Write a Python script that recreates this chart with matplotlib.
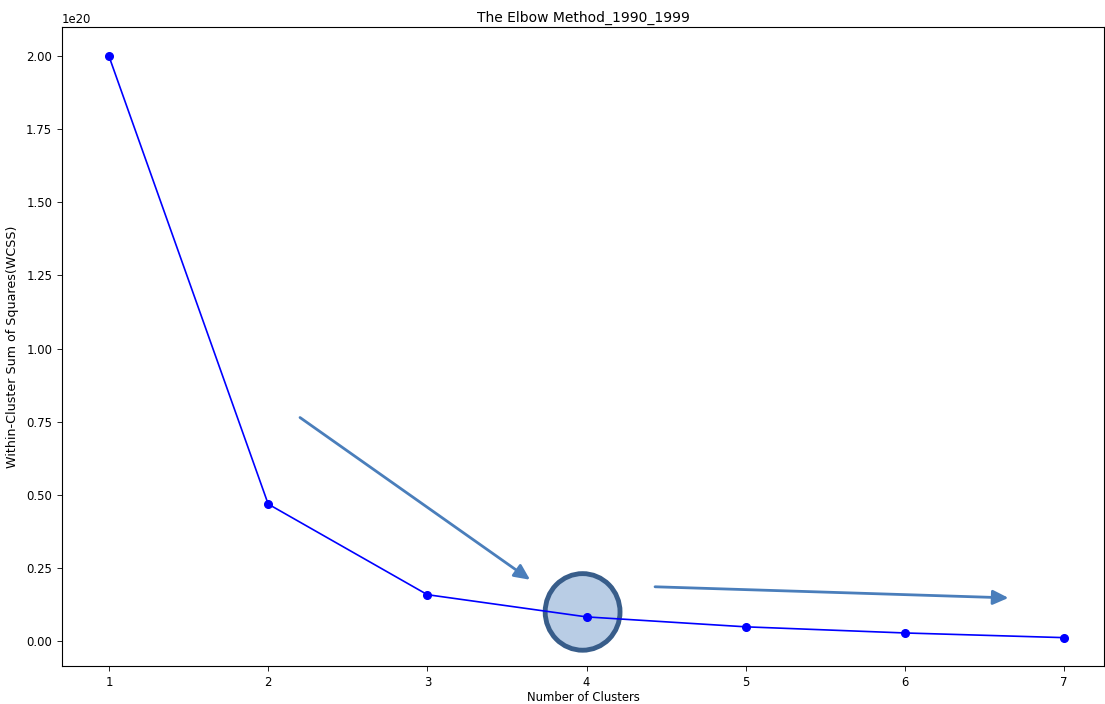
import matplotlib
matplotlib.use("Agg")
import matplotlib.pyplot as plt
from matplotlib.patches import Ellipse

# elbow curve values
clusters = [1, 2, 3, 4, 5, 6, 7]
wcss = [2.00e20, 0.468e20, 0.158e20, 0.082e20, 0.048e20, 0.027e20, 0.011e20]

xticks = [1, 2, 3, 4, 5, 6, 7]
yticks = [0.0, 0.25e20, 0.50e20, 0.75e20, 1.00e20, 1.25e20, 1.50e20, 1.75e20, 2.00e20]

W, H = 1105, 704
fig = plt.figure(figsize=(W / 100, H / 100), dpi=100)
ax = fig.add_axes([62 / W, (H - 666) / H, (1104 - 62) / W, (666 - 27) / H])

# highlight of the elbow point, under the curve
ax.add_patch(Ellipse((3.975, 0.099e20), 0.47, 0.262e20, facecolor="#b9cde5",
                     edgecolor="#385d8a", linewidth=3.5, zorder=1.5))

ax.plot(clusters, wcss, color="blue", marker="o", markersize=5.5,
        linewidth=1.2, zorder=2)

ax.set_xticks(xticks)
ax.set_yticks(yticks)
ax.set_xlim(0.705, 7.25)
ax.set_ylim(-0.086e20, 2.10e20)
ax.tick_params(labelsize=8.4, length=3.5, width=0.6)
ax.yaxis.get_offset_text().set_fontsize(8.4)
for s in ax.spines.values():
    s.set_linewidth(0.8)

ax.set_title("The Elbow Method_1990_1999", fontsize=10, pad=4)
ax.set_xlabel("Number of Clusters", fontsize=8.4, labelpad=1.5)
ax.set_ylabel("Within-Cluster Sum of Squares(WCSS)", fontsize=9.1, labelpad=5)

arrow_col = "#4a7ebb"
style = "-|>,head_length=0.85,head_width=0.4"
ax.annotate("", xy=(3.645, 0.209e20), xytext=(2.20, 0.764e20),
            arrowprops=dict(arrowstyle=style, color=arrow_col, lw=2.0,
                            mutation_scale=11, shrinkA=0, shrinkB=0))
ax.annotate("", xy=(6.65, 0.147e20), xytext=(4.43, 0.185e20),
            arrowprops=dict(arrowstyle=style, color=arrow_col, lw=2.0,
                            mutation_scale=11, shrinkA=0, shrinkB=0))

fig.savefig("out.png", dpi=100)
